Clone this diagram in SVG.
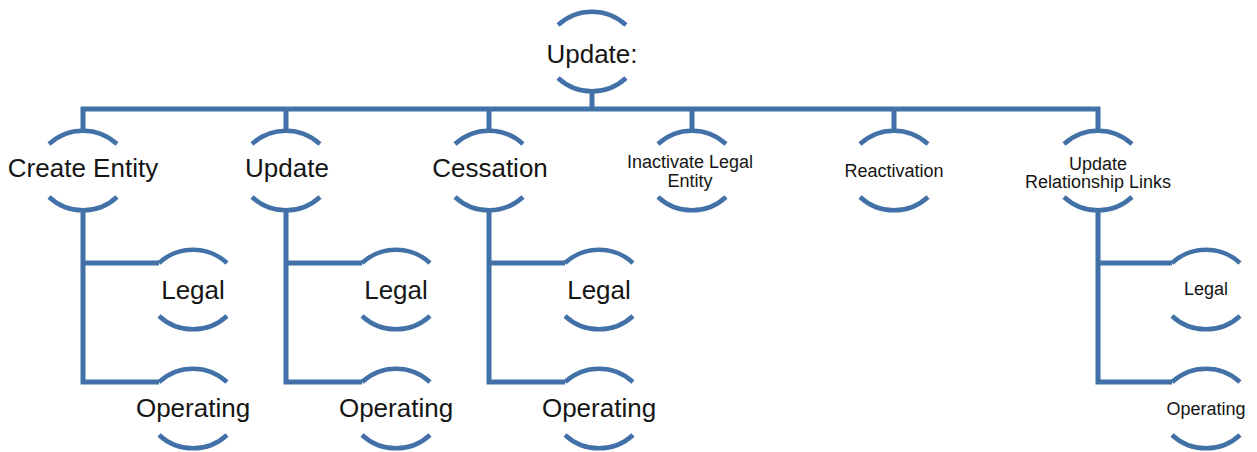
<svg xmlns="http://www.w3.org/2000/svg" width="1257" height="452" viewBox="0 0 1257 452">
  <style>
    .arc { fill: none; stroke: #4271a8; stroke-width: 4.5; stroke-linecap: butt; }
    .link { fill: none; stroke: #4271a8; stroke-width: 5; stroke-linejoin: miter; stroke-linecap: butt; }
    .big { font-family: "Liberation Sans", Arial, sans-serif; font-size: 26px; fill: #151515; text-anchor: middle; }
    .small { font-family: "Liberation Sans", Arial, sans-serif; font-size: 18px; fill: #151515; text-anchor: middle; }
  </style>
  <defs>
    <!-- a node frame: upper arc ends at y=0, lower arc ends at y=53 -->
    <g id="frame">
      <path class="arc" d="M-34 0 A50 50 0 0 1 34 0"/>
      <path class="arc" d="M-34 53 A50 50 0 0 0 34 53"/>
    </g>
  </defs>

  <g id="connectors">
    <path class="link" d="M592 90 V109"/>
    <path class="link" d="M83 132 V109 H1098 V132"/>
    <path class="link" d="M286 109 V132 M489 109 V132 M692 109 V132 M894 109 V132"/>
    <path class="link" d="M83 209 V382 H159 M83 263 H159"/>
    <path class="link" d="M286 209 V382 H362 M286 263 H362"/>
    <path class="link" d="M489 209 V382 H565 M489 263 H565"/>
    <path class="link" d="M1098 209 V382 H1172 M1098 263 H1172"/>
  </g>

  <g id="root">
    <use href="#frame" x="592" y="25"/>
    <text class="big" x="592" y="63">Update:</text>
  </g>

  <g id="create-entity">
    <use href="#frame" x="83" y="144"/>
    <text class="big" x="83" y="177">Create Entity</text>
  </g>
  <g id="create-legal">
    <use href="#frame" x="193" y="263"/>
    <text class="big" x="193" y="299">Legal</text>
  </g>
  <g id="create-operating">
    <use href="#frame" x="193" y="382"/>
    <text class="big" x="193" y="417">Operating</text>
  </g>

  <g id="update">
    <use href="#frame" x="286" y="144"/>
    <text class="big" x="287" y="177">Update</text>
  </g>
  <g id="update-legal">
    <use href="#frame" x="396" y="263"/>
    <text class="big" x="396" y="299">Legal</text>
  </g>
  <g id="update-operating">
    <use href="#frame" x="396" y="382"/>
    <text class="big" x="396" y="417">Operating</text>
  </g>

  <g id="cessation">
    <use href="#frame" x="489" y="144"/>
    <text class="big" x="490" y="177">Cessation</text>
  </g>
  <g id="cessation-legal">
    <use href="#frame" x="599" y="263"/>
    <text class="big" x="599" y="299">Legal</text>
  </g>
  <g id="cessation-operating">
    <use href="#frame" x="599" y="382"/>
    <text class="big" x="599" y="417">Operating</text>
  </g>

  <g id="inactivate">
    <use href="#frame" x="692" y="144"/>
    <text class="small" x="690" y="168">Inactivate Legal</text>
    <text class="small" x="690" y="187">Entity</text>
  </g>

  <g id="reactivation">
    <use href="#frame" x="894" y="144"/>
    <text class="small" x="894" y="177">Reactivation</text>
  </g>

  <g id="update-links">
    <use href="#frame" x="1098" y="144"/>
    <text class="small" x="1098" y="170">Update</text>
    <text class="small" x="1098" y="188">Relationship Links</text>
  </g>
  <g id="links-legal">
    <use href="#frame" x="1206" y="263"/>
    <text class="small" x="1206" y="295">Legal</text>
  </g>
  <g id="links-operating">
    <use href="#frame" x="1206" y="382"/>
    <text class="small" x="1206" y="415">Operating</text>
  </g>
</svg>
